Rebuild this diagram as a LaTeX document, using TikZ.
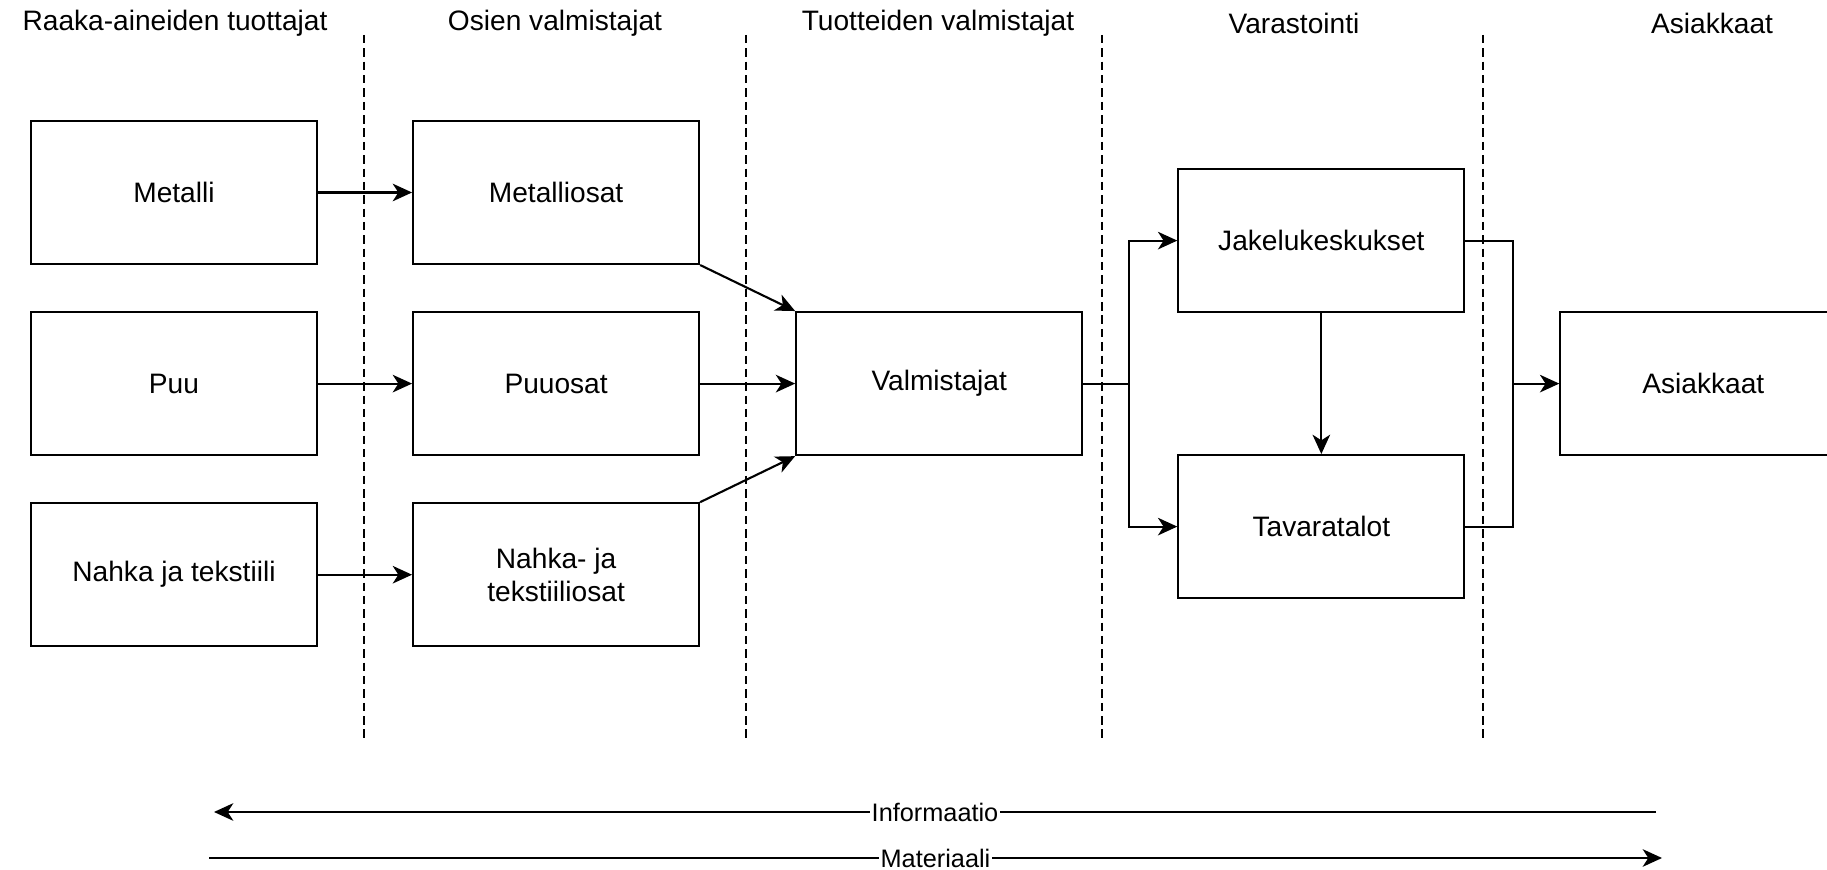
\documentclass[tikz,border=0pt]{standalone}
\usepackage{fontspec}
\setmainfont{Liberation Sans}
\usetikzlibrary{positioning,calc,arrows.meta}

\tikzset{
    laatikko/.style={draw, line width=0.6pt, minimum width=2.86cm, minimum height=1.43cm,
        align=center, font=\fontsize{8}{9.4}\selectfont},
    nuoli/.style={line width=0.6pt, -{Stealth[length=5.5pt,width=5pt,inset=1.6pt]}},
    viiva/.style={line width=0.6pt},
    otsikko/.style={font=\fontsize{8}{9.4}\selectfont},
    selite/.style={font=\fontsize{7.2}{8.6}\selectfont, fill=white, inner sep=0.5pt},
    raja/.style={line width=0.45pt, dash pattern=on 2.4pt off 1.4pt}
}

\begin{document}
\begin{tikzpicture}
    \useasboundingbox (0,0) rectangle (18.27,-8.70);

    % Column titles
    \node[otsikko] (raaka) at (1.75,-0.23) {Raaka-aineiden tuottajat};
    \node[otsikko] (osat) at (5.55,-0.23) {Osien valmistajat};
    \node[otsikko] (tuote) at (9.38,-0.23) {Tuotteiden valmistajat};
    \node[otsikko] (varasto) at (12.94,-0.23) {Varastointi};
    \node[otsikko] (asiakas) at (17.12,-0.23) {Asiakkaat};

    % Column borders
    \foreach \x in {3.64,7.46,11.02,14.83} {
        \draw[raja] (\x,-0.35) -- (\x,-7.42);
    }

    % Boxes
    \node[laatikko] (metalli) at (1.74,-1.925) {Metalli};
    \node[laatikko, below=0.46cm of metalli] (puu) {Puu};
    \node[laatikko, below=0.46cm of puu] (nahka) {Nahka ja tekstiili};

    \node[laatikko, right=0.94cm of metalli] (metosat) {Metalliosat};
    \node[laatikko, right=0.94cm of puu] (puuosat) {Puuosat};
    \node[laatikko, right=0.94cm of nahka] (nahkaosat) {Nahka- ja\\tekstiiliosat};

    \node[laatikko, right=0.95cm of puuosat] (valm) {Valmistajat};
    \node[laatikko, right=0.94cm of valm, yshift=1.43cm] (jakelu) {Jakelukeskukset};
    \node[laatikko, right=0.94cm of valm, yshift=-1.43cm] (tavara) {Tavaratalot};
    \node[laatikko, right=0.95cm of valm, xshift=3.81cm] (asiak) {Asiakkaat};

    % Flows
    \draw[nuoli] (metalli) -- (metosat);
    \draw[nuoli] (puu) -- (puuosat);
    \draw[nuoli] (nahka) -- (nahkaosat);
    \draw[nuoli] (metosat.south east) -- (valm.north west);
    \draw[nuoli] (puuosat) -- (valm);
    \draw[nuoli] (nahkaosat.north east) -- (valm.south west);
    \draw[nuoli] (valm.east) -- ++(0.46,0) |- (jakelu.west);
    \draw[nuoli] (valm.east) -- ++(0.46,0) |- (tavara.west);
    \draw[nuoli] (jakelu) -- (tavara);
    \draw[nuoli] (jakelu.east) -- ++(0.48,0) |- (asiak.west);
    \draw[viiva] (tavara.east) -- ++(0.48,0) |- ($(asiak.west)+(-0.2,0)$);

    % Information and material
    \coordinate (infoA) at (16.56,-8.12);
    \coordinate (infoB) at (2.14,-8.12);
    \coordinate (matA) at (2.09,-8.58);
    \coordinate (matB) at (16.62,-8.58);
    \draw[nuoli] (infoA) -- node[selite] (info) {Informaatio} (infoB);
    \draw[nuoli] (matA) -- node[selite] (mat) {Materiaali} (matB);
\end{tikzpicture}
\end{document}
